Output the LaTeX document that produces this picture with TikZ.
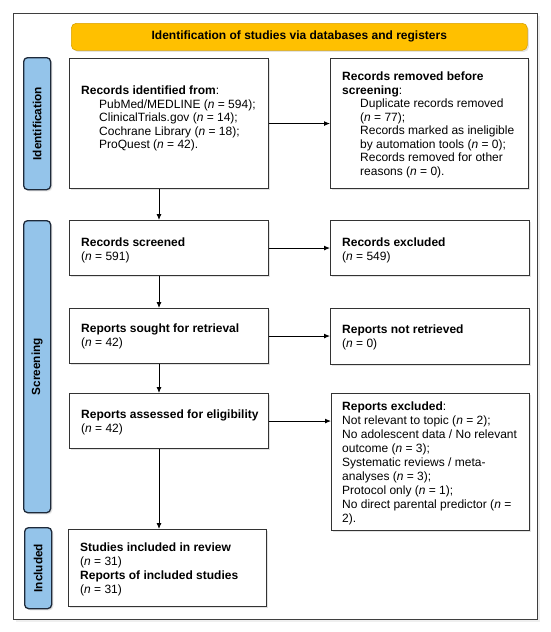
\documentclass[tikz,border=0pt]{standalone}
\usepackage{fontspec}
\setmainfont{Liberation Sans}
\usetikzlibrary{arrows.meta,shadows}
\definecolor{frameline}{HTML}{3F3F3F}
\definecolor{boxline}{HTML}{333333}
\definecolor{labfill}{HTML}{94C4EA}
\definecolor{labline}{HTML}{1E2A3A}
\definecolor{banfill}{HTML}{FFC000}
\definecolor{banline}{HTML}{D9A200}
\begin{document}
\begin{tikzpicture}[x=1pt,y=-1pt,
  softshadow/.style={drop shadow={opacity=0.22,shadow xshift=1.6pt,shadow yshift=-1.6pt}},
  frame/.style={draw=frameline,line width=1.3pt,fill=white,anchor=north west,inner sep=0pt,
    drop shadow={opacity=0.12,shadow xshift=2.5pt,shadow yshift=-2.5pt}},
  box/.style={draw=boxline,line width=1.1pt,fill=white,anchor=north west,inner sep=0pt,softshadow},
  sidelab/.style={draw=labline,line width=1.3pt,fill=labfill,rounded corners=4pt,anchor=north west,inner sep=0pt,softshadow},
  banner/.style={draw=banline,line width=0.6pt,fill=banfill,rounded corners=5pt,anchor=north west,inner sep=0pt,softshadow,
    font=\fontsize{12}{13.5}\selectfont\bfseries},
  labtext/.style={rotate=90,font=\fontsize{11.8}{13.5}\selectfont\bfseries,inner sep=0pt},
  txt/.style={anchor=north west,align=left,inner sep=0pt,font=\fontsize{12}{13.5}\selectfont},
  txtw/.style={anchor=north west,align=left,inner sep=0pt,font=\fontsize{12}{13.9}\selectfont},
  arr/.style={draw=black,line width=0.9pt,-{Latex[length=6pt,width=5pt]}}
]
\useasboundingbox (0,0) rectangle (550,632);
\fill[white] (0,0) rectangle (550,632);

% outer frame
\node[frame,minimum width=524pt,minimum height=606pt] (frame) at (13,13) {};

% banner
\node[banner,minimum width=456pt,minimum height=27pt] (banner) at (71,23) {Identification of studies via databases and registers};

% side labels
\node[sidelab,minimum width=27pt,minimum height=132pt] (identlab) at (23,57) {};
\node[sidelab,minimum width=27pt,minimum height=292pt] (screenlab) at (23,220) {};
\node[sidelab,minimum width=27pt,minimum height=81pt] (incllab) at (24,527) {};
\node[labtext] (identlabt) at (identlab.center) {Identification};
\node[labtext] (screenlabt) at (screenlab.center) {Screening};
\node[labtext] (incllabt) at (incllab.center) {Included};

% boxes
\node[box,minimum width=199pt,minimum height=130pt] (ident) at (69,58) {};
\node[box,minimum width=198pt,minimum height=130pt] (removed) at (330,58) {};
\node[box,minimum width=199pt,minimum height=55pt] (screened) at (69,220) {};
\node[box,minimum width=199pt,minimum height=55pt] (excluded) at (330,220) {};
\node[box,minimum width=199pt,minimum height=55pt] (sought) at (69,308) {};
\node[box,minimum width=199pt,minimum height=56pt] (notret) at (330,308) {};
\node[box,minimum width=199pt,minimum height=55pt] (assessed) at (69,393) {};
\node[box,minimum width=198pt,minimum height=137pt] (rexcl) at (331,393) {};
\node[box,minimum width=198pt,minimum height=77pt] (incl) at (68,529) {};

% texts
\node[txt] (identt) at (81,85) {\strut\textbf{Records identified from}:\\
\hspace*{18pt}PubMed/MEDLINE (\textit{n} = 594);\\
\hspace*{18pt}ClinicalTrials.gov (\textit{n} = 14);\\
\hspace*{18pt}Cochrane Library (\textit{n} = 18);\\
\hspace*{18pt}ProQuest (\textit{n} = 42).};
\node[txt] (removedt) at (342,71) {\strut\textbf{Records removed before}\\
\textbf{screening}:\\
\hspace*{18pt}Duplicate records removed\\
\hspace*{18pt}(\textit{n} = 77);\\
\hspace*{18pt}Records marked as ineligible\\
\hspace*{18pt}by automation tools (\textit{n} = 0);\\
\hspace*{18pt}Records removed for other\\
\hspace*{18pt}reasons (\textit{n} = 0).};
\node[txt] (screenedt) at (81,237) {\strut\textbf{Records screened}\\(\textit{n} = 591)};
\node[txt] (excludedt) at (342,237) {\strut\textbf{Records excluded}\\(\textit{n} = 549)};
\node[txt] (soughtt) at (81,323) {\strut\textbf{Reports sought for retrieval}\\(\textit{n} = 42)};
\node[txt] (notrett) at (342,324) {\strut\textbf{Reports not retrieved}\\(\textit{n} = 0)};
\node[txt] (assessedt) at (81,409) {\strut\textbf{Reports assessed for eligibility}\\(\textit{n} = 42)};
\node[txtw] (rexclt) at (342,401) {\strut\textbf{Reports excluded}:\\
Not relevant to topic (\textit{n} = 2);\\
No adolescent data / No relevant\\
outcome (\textit{n} = 3);\\
Systematic reviews / meta-\\
analyses (\textit{n} = 3);\\
Protocol only (\textit{n} = 1);\\
No direct parental predictor (\textit{n} =\\
2).};
\node[txtw] (inclt) at (80,542) {\strut\textbf{Studies included in review}\\
(\textit{n} = 31)\\
\textbf{Reports of included studies}\\
(\textit{n} = 31)};

% connectors
\coordinate (axis) at (159,0);
\draw[arr] (ident.south -| axis) -- (screened.north -| axis);
\draw[arr] (screened.south -| axis) -- (sought.north -| axis);
\draw[arr] (sought.south -| axis) -- (assessed.north -| axis);
\draw[arr] (assessed.south -| axis) -- (incl.north -| axis);
\draw[arr] (ident.east) -- (ident.east -| removed.west);
\draw[arr] (screened.east) -- (screened.east -| excluded.west);
\draw[arr] (sought.east) -- (sought.east -| notret.west);
\draw[arr] (assessed.east) -- (assessed.east -| rexcl.west);
\end{tikzpicture}
\end{document}
